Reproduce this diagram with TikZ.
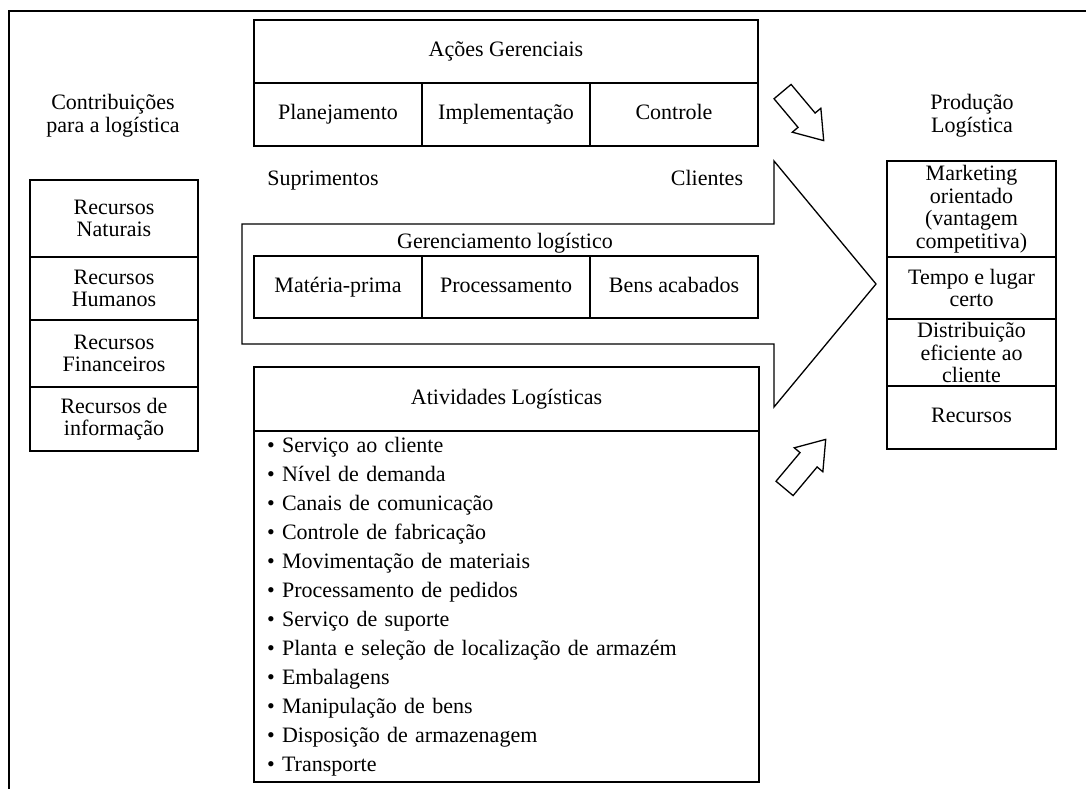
\documentclass[tikz,border=0pt]{standalone}
\usepackage{fontspec}
\setmainfont{Liberation Serif}
\usetikzlibrary{shapes.arrows, positioning}

\tikzset{
  cell/.style={draw, line width=2pt, inner sep=2pt, outer sep=0pt, align=center,
    minimum width=168pt, minimum height=63pt, font=\fontsize{22}{22.5}\selectfont},
  oneline/.style={text height=15pt, text depth=5pt},
  txt/.style={align=center, font=\fontsize{22}{23}\selectfont},
  hollow/.style={single arrow, draw, line width=1.3pt, minimum height=64pt,
    inner xsep=0pt, inner ysep=10.5pt, single arrow head extend=7.5pt, single arrow tip angle=70},
  bigarrow/.style={line width=1.3pt, line join=miter},
}

\begin{document}
\begin{tikzpicture}[x=1pt, y=-1pt]
\useasboundingbox (0,0) rectangle (1086,789);

% Frame
\draw[line width=2.5pt] (9,789) -- (9,11) -- (1086,11);

% Big arrow
\draw[bigarrow] (242,224) -- (774,224) -- (774,161) -- (876,284) -- (774,407) -- (774,344) -- (242,344) -- cycle;

% Contributions
\node[txt] (contrib) at (113,116) {Contribuições\\para a logística};
\node[cell, minimum height=77pt] (natur) at (114,218.5) {Recursos\\Naturais};
\node[cell, below=0pt of natur] (human) {Recursos\\Humanos};
\node[cell, minimum height=67pt, below=0pt of human] (finan) {Recursos\\Financeiros};
\node[cell, minimum height=64pt, below=0pt of finan] (infor) {Recursos de\\informação};

% Management actions
\node[cell, oneline, minimum width=504pt] (acoes) at (506,51.5) {Ações Gerenciais};
\node[cell, oneline, anchor=north west] (plan) at (acoes.south west) {Planejamento};
\node[cell, oneline, right=0pt of plan] (impl) {Implementação};
\node[cell, oneline, right=0pt of impl] (ctrl) {Controle};

% Logistics management
\node[txt, oneline] (supri) at (323,180) {Suprimentos};
\node[txt, oneline] (client) at (707,180) {Clientes};
\node[txt, oneline] (geren) at (505,243) {Gerenciamento logístico};
\node[cell, oneline, minimum height=62pt] (mater) at (338,287) {Matéria-prima};
\node[cell, oneline, minimum height=62pt, right=0pt of mater] (proc) {Processamento};
\node[cell, oneline, minimum height=62pt, right=0pt of proc] (bens) {Bens acabados};

% Logistics activities
\node[cell, oneline, minimum width=505pt, minimum height=64pt] (ativ) at (506.5,399) {Atividades Logísticas};
\node[cell, below=0pt of ativ, minimum width=505pt, minimum height=351pt, text width=479pt,
  align=left, inner xsep=13pt, font=\fontsize{22}{29}\selectfont] (lista) {%
  \textbullet\ Serviço ao cliente\\
  \textbullet\ Nível de demanda\\
  \textbullet\ Canais de comunicação\\
  \textbullet\ Controle de fabricação\\
  \textbullet\ Movimentação de materiais\\
  \textbullet\ Processamento de pedidos\\
  \textbullet\ Serviço de suporte\\
  \textbullet\ Planta e seleção de localização de armazém\\
  \textbullet\ Embalagens\\
  \textbullet\ Manipulação de bens\\
  \textbullet\ Disposição de armazenagem\\
  \textbullet\ Transporte};

% Logistics output
\node[txt] (prod) at (972,116) {Produção\\Logística};
\node[cell, minimum width=169pt, minimum height=96pt] (mkt) at (971.5,209) {Marketing\\orientado\\(vantagem\\competitiva)};
\node[cell, minimum width=169pt, minimum height=62pt, below=0pt of mkt] (tempo) {Tempo e lugar\\certo};
\node[cell, minimum width=169pt, minimum height=67pt, below=0pt of tempo] (distr) {Distribuição\\eficiente ao\\cliente};
\node[cell, oneline, minimum width=169pt, below=0pt of distr] (recur) {Recursos};

% Hollow arrows
\node[hollow, rotate=-50] (arrdown) at (798,110) {};
\node[hollow, rotate=50] (arrup) at (800,470) {};
\end{tikzpicture}
\end{document}
